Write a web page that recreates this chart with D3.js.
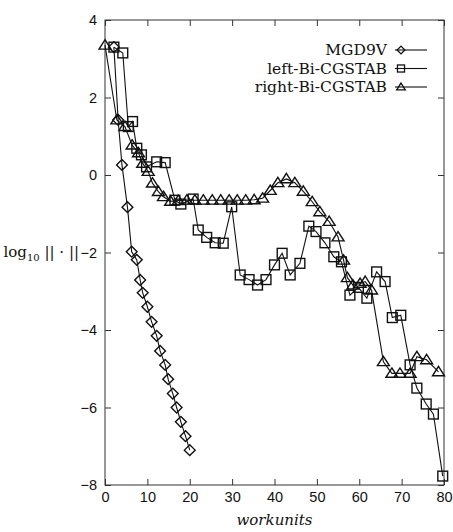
<!DOCTYPE html>
<html>
<head>
<meta charset="utf-8">
<script src="https://cdn.jsdelivr.net/npm/d3@7"></script>
<style>
  body { margin: 0; background: #fff; }
  svg { font-family: "DejaVu Serif", serif; }
</style>
</head>
<body>
<div id="chart"></div>
<script>
// series: [workunits, log10 of residual]
var mgd9v = [
  [2.1, 3.3], [3.1, 1.42], [4.0, 0.26], [5.3, -0.83], [6.3, -1.98], [7.5, -2.19],
  [8.3, -2.71], [8.9, -3.04], [10.0, -3.40], [11.0, -3.79], [12.2, -4.15], [13.0, -4.54],
  [14.2, -4.90], [14.9, -5.27], [16.0, -5.64], [16.9, -6.00], [17.9, -6.37], [19.0, -6.74],
  [20.0, -7.10]
];
var leftBiCgstab = [
  [2.1, 3.3], [4.2, 3.15], [5.5, 1.25], [6.5, 1.38], [7.5, 0.69], [8.6, 0.52], [9.8, 0.21],
  [12.2, 0.34], [14.2, 0.32], [16.5, -0.65], [17.9, -0.75], [20.8, -0.62], [22.0, -1.42],
  [24.0, -1.61], [26.0, -1.75], [27.9, -1.76], [29.9, -0.82], [31.9, -2.58], [34.0, -2.7],
  [36.0, -2.84], [38.0, -2.7], [40.0, -2.32], [41.8, -2.02], [43.7, -2.58], [46.0, -2.28],
  [48.1, -1.32], [49.8, -1.46], [51.9, -1.75], [54.0, -2.11], [55.8, -2.24], [57.8, -3.1],
  [59.8, -2.9], [61.8, -3.18], [64.1, -2.5], [66.1, -2.75], [67.8, -3.68], [69.8, -3.62],
  [72.0, -4.9], [73.6, -5.5], [75.8, -5.91], [77.5, -6.17], [79.7, -7.77]
];
var rightBiCgstab = [
  [0, 3.35], [2.8, 1.42], [4.7, 1.25], [6.4, 0.77], [7.9, 0.57], [8.9, 0.30], [10.2, 0.09],
  [11.2, -0.21], [12.6, -0.43], [13.8, -0.56], [15.5, -0.68], [17.3, -0.66], [19.3, -0.65],
  [21.2, -0.65], [23.2, -0.65], [25.3, -0.65], [27.3, -0.65], [29.3, -0.65], [31.2, -0.65],
  [33.2, -0.65], [35.2, -0.64], [37.2, -0.6], [39.0, -0.4], [40.8, -0.2], [42.8, -0.1],
  [44.8, -0.2], [46.8, -0.42], [48.9, -0.69], [50.7, -0.95], [52.9, -1.2], [55.0, -1.6],
  [56.3, -2.2], [57.2, -2.65], [58.5, -2.84], [60.2, -2.8], [61.4, -2.75], [62.9, -2.97],
  [65.7, -4.82], [67.7, -5.12], [69.6, -5.12], [72.0, -5.12], [73.6, -4.69], [75.9, -4.77],
  [78.7, -5.08]
];
var seriesNames = ["MGD9V", "left-Bi-CGSTAB", "right-Bi-CGSTAB"];
var xTicks = [0, 10, 20, 30, 40, 50, 60, 70, 80];
var yTicks = [-8, -6, -4, -2, 0, 2, 4];

var width = 453, height = 532;
var margin = {top: 20, right: 9, bottom: 47, left: 105};
var ink = "#111";

var svg = d3.select("#chart").append("svg")
    .attr("width", width)
    .attr("height", height);

var x = d3.scaleLinear().domain([0, 80]).range([margin.left, width - margin.right]);
var y = d3.scaleLinear().domain([-8, 4]).range([height - margin.bottom, margin.top]);

// frame
svg.append("rect")
    .attr("x", x(0)).attr("y", y(4))
    .attr("width", x(80) - x(0)).attr("height", y(-8) - y(4))
    .attr("fill", "none").attr("stroke", "#333").attr("stroke-width", 1);

// ticks point inwards on all four sides
function styleAxis(g) {
  g.select(".domain").remove();
  g.selectAll(".tick line").attr("stroke", "#333");
  g.selectAll(".tick text").attr("fill", ink).attr("font-size", 14.5);
}

svg.append("g")
    .attr("transform", "translate(0," + y(-8) + ")")
    .call(d3.axisBottom(x).tickValues(xTicks).tickSize(-6).tickPadding(7))
    .call(styleAxis);
svg.append("g")
    .attr("transform", "translate(0," + y(4) + ")")
    .call(d3.axisTop(x).tickValues(xTicks).tickSize(-6).tickFormat(""))
    .call(styleAxis);
svg.append("g")
    .attr("transform", "translate(" + x(0) + ",0)")
    .call(d3.axisLeft(y).tickValues(yTicks).tickSize(-6).tickPadding(8))
    .call(styleAxis);
svg.append("g")
    .attr("transform", "translate(" + x(80) + ",0)")
    .call(d3.axisRight(y).tickValues(yTicks).tickSize(-6).tickFormat(""))
    .call(styleAxis);

// axis titles
svg.append("text")
    .attr("x", (x(0) + x(80)) / 2)
    .attr("y", 525)
    .attr("text-anchor", "middle")
    .attr("font-style", "italic")
    .attr("font-size", 15)
    .attr("fill", ink)
    .text("workunits");

var ylab = svg.append("text")
    .attr("x", 79)
    .attr("y", y(-2) + 4)
    .attr("text-anchor", "end")
    .attr("font-size", 15)
    .attr("fill", ink);
ylab.append("tspan").text("log");
ylab.append("tspan").attr("font-size", 10).attr("dy", 4).text("10");
ylab.append("tspan").attr("dy", -4).text(" || · ||");

// marker shapes
function diamond(g, s) {
  g.append("path").attr("d", "M0," + (-s) + "L" + s + ",0L0," + s + "L" + (-s) + ",0Z");
}
function square(g, s) {
  g.append("rect").attr("x", -s).attr("y", -s).attr("width", 2 * s).attr("height", 2 * s);
}
function triangle(g, s) {
  g.append("path").attr("d", "M0," + (-s * 1.05) + "L" + (s * 1.15) + "," + (s * 0.75) + "L" + (-s * 1.15) + "," + (s * 0.75) + "Z");
}

var series = [
  {name: seriesNames[0], values: mgd9v, marker: diamond, size: 5.4},
  {name: seriesNames[1], values: leftBiCgstab, marker: square, size: 4.9},
  {name: seriesNames[2], values: rightBiCgstab, marker: triangle, size: 5.2}
];

var line = d3.line()
    .x(function (d) { return x(d[0]); })
    .y(function (d) { return y(d[1]); });

series.forEach(function (s) {
  svg.append("path")
      .datum(s.values)
      .attr("d", line)
      .attr("fill", "none")
      .attr("stroke", ink)
      .attr("stroke-width", 1.1);

  svg.append("g")
      .attr("fill", "none")
      .attr("stroke", ink)
      .attr("stroke-width", 1.4)
    .selectAll("g")
    .data(s.values)
    .enter().append("g")
      .attr("transform", function (d) { return "translate(" + x(d[0]) + "," + y(d[1]) + ")"; })
      .each(function () { s.marker(d3.select(this), s.size); });
});

// legend, top right
var legend = svg.append("g")
    .selectAll("g")
    .data(series)
    .enter().append("g")
      .attr("transform", function (d, i) { return "translate(0," + (55 + i * 18.5) + ")"; });

legend.append("text")
    .attr("x", 387)
    .attr("text-anchor", "end")
    .attr("font-size", 15.5)
    .attr("fill", ink)
    .text(function (d) { return d.name; });

legend.append("line")
    .attr("x1", 395).attr("x2", 427)
    .attr("y1", -5).attr("y2", -5)
    .attr("stroke", ink).attr("stroke-width", 1.1);

legend.append("g")
    .attr("transform", "translate(401,-5)")
    .attr("fill", "none")
    .attr("stroke", ink)
    .attr("stroke-width", 1.3)
    .each(function (d) { d.marker(d3.select(this), d.size * 0.72); });
</script>
</body>
</html>
